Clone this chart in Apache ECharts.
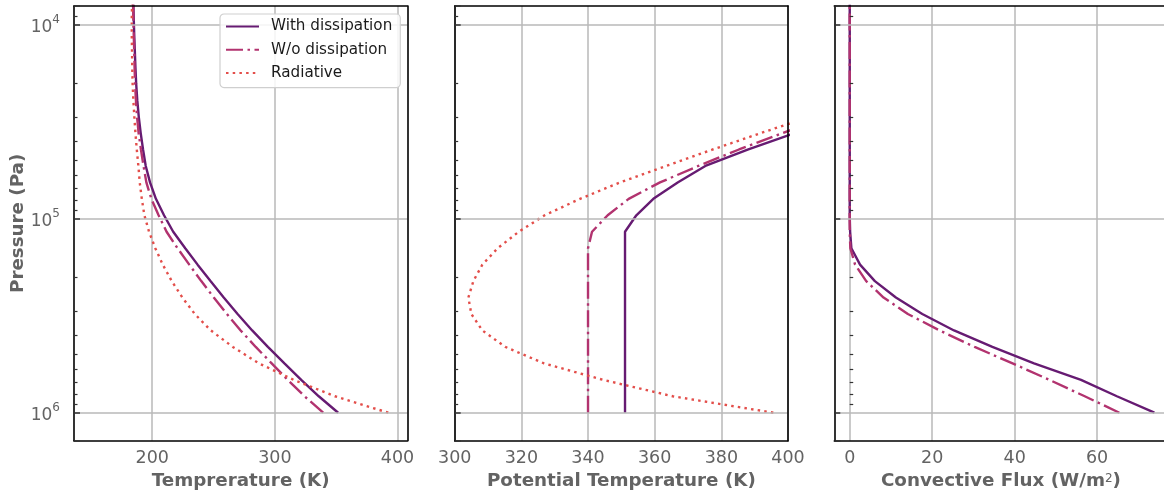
<!DOCTYPE html>
<html>
<head>
<meta charset="utf-8">
<script src="https://cdn.jsdelivr.net/npm/echarts@6/dist/echarts.min.js"></script>
<style>
  html, body { margin: 0; padding: 0; background: #fff; }
  #chart { width: 1164px; height: 498px; }
</style>
</head>
<body>
<div id="chart"></div>
<script>
// model pressure levels (Pa), from the bottom (1e6) upwards
var pressure = [1000000, 822700, 676800, 556800, 458100, 376700, 309900, 254900, 209700, 172500,
  141900, 116800, 96000, 79000, 65000, 53460, 43980, 36180, 29760, 24480,
  20140, 16570, 13630, 11210, 9220, 7590];

// temperature (K)
var tempWith = [351.6, 335.8, 321.5, 307.8, 294.3, 281.5, 269.6, 258.3, 247.5, 237.0,
  226.9, 217.1, 209.6, 203.0, 198.2, 194.7, 192.5, 190.6, 189.0, 187.8,
  186.9, 186.3, 185.8, 185.3, 184.9, 184.6];
var tempWithout = [339.4, 324.2, 310.4, 297.4, 284.4, 272.1, 260.9, 250.2, 240.0, 230.2,
  220.6, 211.7, 205.2, 199.3, 195.2, 192.9, 190.8, 188.9, 187.6, 186.7,
  186.0, 185.6, 185.3, 184.9, 184.6, 184.3];
var tempRad = [392.5, 349.0, 315.2, 287.0, 265.7, 247.8, 234.7, 224.6, 215.9, 208.6,
  202.5, 197.4, 193.6, 191.5, 189.8, 188.7, 187.4, 186.3, 185.4, 184.6,
  184.0, 183.7, 183.5, 183.3, 183.3, 183.6];

// potential temperature (K), only the levels that reach the plotted range
var thetaWith = [351.1, 351.1, 351.1, 351.1, 351.1, 351.1, 351.1, 351.1, 351.1, 351.1,
  351.1, 351.1, 354.5, 359.6, 366.9, 375.2, 388.1, 402.0];
var thetaWithout = [340.0, 340.0, 340.0, 340.0, 340.0, 340.0, 340.0, 340.0, 340.0, 340.0,
  340.0, 341.2, 345.9, 352.2, 361.6, 373.1, 385.3, 398.4, 412.0];
var thetaRad = [395.6, 365.4, 344.5, 326.8, 315.2, 308.3, 305.0, 304.1, 305.6, 308.3,
  312.9, 319.2, 327.0, 337.6, 349.6, 363.5, 377.4, 391.9, 406.7];

// convective flux (W/m2)
var fluxWith = [73.9, 64.8, 56.1, 44.7, 34.6, 25.3, 17.6, 11.2, 6.1, 2.5,
  0.4, 0.1, 0, 0, 0, 0, 0, 0, 0, 0, 0, 0, 0, 0, 0, 0];
var fluxWithout = [65.4, 57.0, 48.4, 39.5, 30.3, 21.8, 14.1, 8.2, 4.0, 1.3,
  0.15, 0, 0, 0, 0, 0, 0, 0, 0, 0, 0, 0, 0, 0, 0, 0];

var tempTicks = [200, 300, 400];
var thetaTicks = [300, 320, 340, 360, 380, 400];
var fluxTicks = [0, 20, 40, 60];
var minorPressureTicks = [9000, 20000, 30000, 40000, 50000, 60000, 70000, 80000, 90000,
  200000, 300000, 400000, 500000, 600000, 700000, 800000, 900000];

var names = ['With dissipation', 'W/o dissipation', 'Radiative'];

var FONT = 'DejaVu Sans';
var GREY = '#636363';
var yMin = 8010, yMax = 1394000;

var lineStyles = {
  'With dissipation': { color: '#661b72', type: 'solid' },
  'W/o dissipation': { color: '#b2336f', type: [17, 4.5, 2.5, 4.5] },
  'Radiative': { color: '#e34e4a', type: [2.5, 4.2] }
};

var panels = [
  { left: 74, xMin: 136.2, xMax: 408, ticks: tempTicks, title: 'Temprerature (K)',
    lines: [[names[0], tempWith], [names[1], tempWithout], [names[2], tempRad]] },
  { left: 454.7, xMin: 300, xMax: 400, ticks: thetaTicks, title: 'Potential Temperature (K)',
    lines: [[names[0], thetaWith], [names[1], thetaWithout], [names[2], thetaRad]] },
  { left: 834.3, xMin: -3.74, xMax: 77.1, ticks: fluxTicks, title: 'Convective Flux (W/m{sup|2})',
    lines: [[names[0], fluxWith], [names[1], fluxWithout]] }
];

var frameLine = { show: true, onZero: false, lineStyle: { color: '#000', width: 1.6 } };
var gridLine = { color: '#b9b9b9', width: 1.5 };

var grids = [], xAxes = [], yAxes = [], series = [];

panels.forEach(function (p, i) {
  grids.push({ left: p.left, top: 6, width: 333.3, height: 434.7, outerBoundsMode: 'none' });

  var xMain = xAxes.length;
  xAxes.push({
    gridIndex: i, type: 'value', min: p.xMin, max: p.xMax, position: 'bottom', z: 1,
    axisLine: frameLine,
    axisTick: { show: false, customValues: p.ticks },
    axisLabel: { customValues: p.ticks, margin: 9, color: GREY, fontSize: 17.5, fontFamily: FONT },
    splitLine: { show: true, lineStyle: gridLine },
    name: p.title, nameLocation: 'middle', nameGap: 32,
    nameTextStyle: { color: GREY, fontSize: 18.3, fontWeight: 'bold', fontFamily: FONT,
      rich: { sup: { color: GREY, fontSize: 12, fontWeight: 'normal', fontFamily: FONT, verticalAlign: 'top', lineHeight: 12 } } }
  });
  xAxes.push({
    gridIndex: i, type: 'value', min: p.xMin, max: p.xMax, position: 'top', z: 3,
    axisLine: frameLine, axisTick: { show: false }, axisLabel: { show: false }, splitLine: { show: false }
  });

  var yMain = yAxes.length;
  yAxes.push({
    gridIndex: i, type: 'log', logBase: 10, min: yMin, max: yMax, inverse: true, position: 'left', z: 3,
    axisLine: frameLine,
    axisTick: { show: true, inside: true, length: 6, lineStyle: { color: '#333', width: 1.5 } },
    axisLabel: {
      show: i === 0, margin: 14, color: GREY,
      formatter: function (v) {
        var e = Math.log10(v);
        if (Math.abs(e - Math.round(e)) > 1e-6) return '';
        return '{b|10}{s|' + Math.round(e) + '}';
      },
      rich: {
        b: { color: GREY, fontSize: 17, fontFamily: FONT, lineHeight: 22, verticalAlign: 'bottom' },
        s: { color: GREY, fontSize: 12, fontFamily: FONT, lineHeight: 22, verticalAlign: 'top' }
      }
    },
    splitLine: { show: true, showMinLine: false, showMaxLine: false, lineStyle: gridLine },
    name: i === 0 ? 'Pressure (Pa)' : '', nameLocation: 'middle', nameGap: 47,
    nameTextStyle: { color: GREY, fontSize: 18.3, fontWeight: 'bold', fontFamily: FONT }
  });
  yAxes.push({
    gridIndex: i, type: 'value', min: Math.log10(yMin), max: Math.log10(yMax), inverse: true,
    position: 'left', z: 3,
    axisLine: { show: false },
    axisTick: { show: true, inside: true, length: 3.5, customValues: minorPressureTicks.map(Math.log10),
      lineStyle: { color: '#333', width: 1.2 } },
    axisLabel: { show: false }, splitLine: { show: false }
  });
  yAxes.push({
    gridIndex: i, type: 'value', min: 0, max: 1, position: 'right', z: 3,
    axisLine: frameLine, axisTick: { show: false }, axisLabel: { show: false }, splitLine: { show: false }
  });

  p.lines.forEach(function (l) {
    var st = lineStyles[l[0]];
    series.push({
      name: l[0], type: 'line', xAxisIndex: xMain, yAxisIndex: yMain,
      data: l[1].map(function (x, k) { return [x, pressure[k]]; }),
      showSymbol: false, symbol: 'none', clip: true, z: 2,
      color: st.color,
      lineStyle: { color: st.color, width: 2.4, type: st.type, cap: 'butt' }
    });
  });
});

var chart = echarts.init(document.getElementById('chart'));
chart.setOption({
  animation: false,
  backgroundColor: '#fff',
  grid: grids,
  xAxis: xAxes,
  yAxis: yAxes,
  legend: {
    data: names, orient: 'vertical', left: 220, top: 14,
    itemWidth: 33, itemHeight: 14, itemGap: 8.3, padding: [5, 8, 7, 5],
    itemStyle: { opacity: 0 },
    backgroundColor: 'rgba(255,255,255,0.85)', borderColor: '#cfcfcf', borderWidth: 1.2, borderRadius: 4,
    textStyle: { color: '#1a1a1a', fontSize: 15.2, fontFamily: FONT, padding: [0, 0, 0, 7] }
  },
  series: series
});
</script>
</body>
</html>
